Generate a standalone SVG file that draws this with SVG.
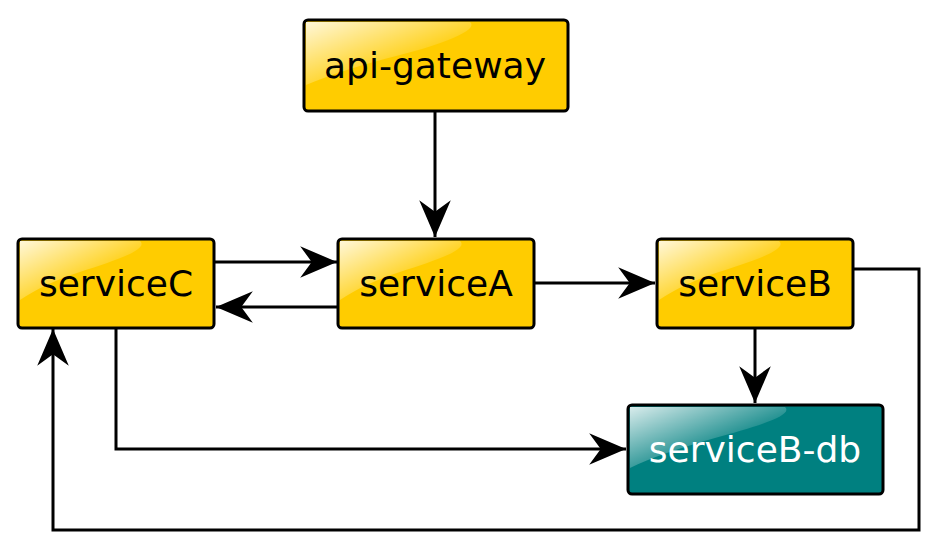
<svg xmlns="http://www.w3.org/2000/svg" width="940" height="550" viewBox="0 0 940 550">
  <defs>
    <linearGradient id="gloss" x1="0" y1="0" x2="1" y2="1">
      <stop offset="0" stop-color="#ffffff" stop-opacity="0.85"/>
      <stop offset="0.6" stop-color="#ffffff" stop-opacity="0.1"/>
      <stop offset="1" stop-color="#ffffff" stop-opacity="0"/>
    </linearGradient>
    <marker id="arrow" markerUnits="userSpaceOnUse" markerWidth="40" markerHeight="40" viewBox="-36 -16 38 32" refX="0" refY="0" orient="auto">
      <path d="M0,0 L-35,-15 L-24,0 L-35,15 Z" fill="#000"/>
    </marker>
  </defs>
  <style>
    .box { stroke: #000; stroke-width: 3; }
    .yellow { fill: #ffcc00; }
    .teal { fill: #008080; }
    .gloss { fill: url(#gloss); }
    .lbl { font-family: "DejaVu Sans", "Liberation Sans", sans-serif; font-size: 36px; text-anchor: middle; }
    .dark { fill: #000; }
    .light { fill: #fff; }
    .edge { fill: none; stroke: #000; stroke-width: 3; marker-end: url(#arrow); }
  </style>
  <rect width="940" height="550" fill="#fff"/>

  <g id="connectors">
    <path class="edge" d="M435,111 V237"/>
    <path class="edge" d="M215,262 H337"/>
    <path class="edge" d="M338,307 H216"/>
    <path class="edge" d="M534,283 H655"/>
    <path class="edge" d="M755,328 V403"/>
    <path class="edge" d="M854,269 H919 V530 H53 V329"/>
    <path class="edge" d="M116,328 V449 H626"/>
  </g>

  <g id="api-gateway">
    <rect class="box yellow" x="304" y="20" width="264" height="91" rx="4"/>
    <path class="gloss" d="M306,22 H470 C480,30 440,45 400,55 C360,65 330,75 306,85 Z"/>
    <text class="lbl dark" x="435" y="78">api-gateway</text>
  </g>

  <g id="serviceC">
    <rect class="box yellow" x="18" y="239" width="196" height="89" rx="4"/>
    <path class="gloss" d="M20,241 H140 C150,250 110,262 80,272 C55,280 35,290 20,300 Z"/>
    <text class="lbl dark" x="116" y="296">serviceC</text>
  </g>

  <g id="serviceA">
    <rect class="box yellow" x="338" y="239" width="196" height="89" rx="4"/>
    <path class="gloss" d="M340,241 H460 C470,250 430,262 400,272 C375,280 355,290 340,300 Z"/>
    <text class="lbl dark" x="436" y="296">serviceA</text>
  </g>

  <g id="serviceB">
    <rect class="box yellow" x="657" y="239" width="196" height="89" rx="4"/>
    <path class="gloss" d="M659,241 H779 C789,250 749,262 719,272 C694,280 674,290 659,300 Z"/>
    <text class="lbl dark" x="755" y="296">serviceB</text>
  </g>

  <g id="serviceB-db">
    <rect class="box teal" x="628" y="405" width="255" height="89" rx="4"/>
    <path class="gloss" d="M630,407 H785 C795,416 750,428 715,438 C680,448 650,458 630,468 Z"/>
    <text class="lbl light" x="755" y="462">serviceB-db</text>
  </g>
</svg>
